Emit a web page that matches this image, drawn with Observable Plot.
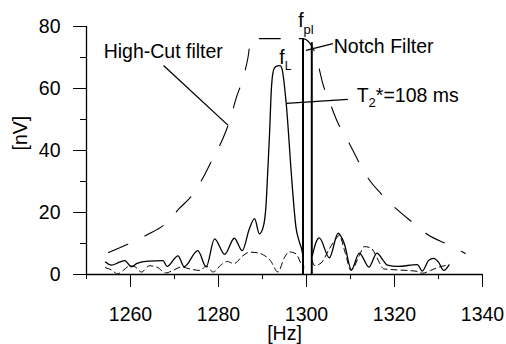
<!DOCTYPE html>
<html><head><meta charset="utf-8">
<script src="https://cdn.jsdelivr.net/npm/d3@7"></script>
<script src="https://cdn.jsdelivr.net/npm/@observablehq/plot@0.6"></script>
<style>html,body{margin:0;padding:0;background:#fff}</style>
</head><body><div id="chart"></div>
<script>
// Measured spectrum (solid) — NaN marks the notch gap
const sigHz = [1254.3,1255.7,1257.5,1258.7,1260.2,1261.5,1264.0,1267.4,1268.3,1270.8,1272.2,1275.3,1277.2,1279.1,1281.4,1283.6,1285.4,1287.0,1288.2,1289.3,1290.2,1290.8,1291.2,1291.6,1292.0,1292.3,1292.7,1293.4,1294.0,1294.4,1295.4,1296.5,1296.9,1297.6,1298.4,1299.1,1299.35,1300.3,1301.3,1302.2,1302.9,1305.2,1307.2,1308.6,1310.2,1312.0,1314.2,1316.0,1317.3,1318.4,1320.7,1325.2,1326.3,1327.8,1328.9,1330.0,1331.2,1332.4];
const sigNV = [4.0,3.0,4.0,4.5,2.5,3.6,4.3,4.5,2.6,6.0,2.5,7.7,2.5,11.5,6.5,11.7,7.7,14.7,18.0,13.1,15.5,22.3,33.5,45.4,59.4,64.5,66.6,67.3,67.4,66.5,55.0,33.5,26.0,15.3,10.4,6.7,2.0,NaN,6.0,10.5,11.8,5.4,13.3,9.9,1.5,6.9,2.4,6.9,4.8,3.0,2.6,3.2,1.1,4.6,5.2,4.0,1.3,3.1];
// Noise spectrum (short dashes)
const noiseHz = [1254.3,1255.8,1257.0,1258.5,1259.8,1261.0,1262.5,1264.3,1266.0,1268.0,1269.5,1271.5,1273.5,1275.8,1277.2,1278.8,1280.5,1282.0,1283.5,1285.5,1287.0,1289.0,1290.2,1291.8,1293.5,1295.0,1296.1,1297.6,1299.0,1299.35,1300.3,1301.3,1301.8,1303.3,1305.2,1306.7,1307.4,1308.8,1310.1,1312.0,1313.1,1314.6,1315.8,1316.5,1317.6,1319.2,1322.9,1325.2,1326.3,1328.2,1329.7,1332.4];
const noiseNV = [2.2,1.4,0.2,1.5,2.8,2.5,0.8,2.8,2.4,0.5,1.2,2.4,1.8,1.3,2.7,0.8,3.0,4.2,3.5,6.0,7.2,7.0,6.3,4.5,0.8,5.5,7.3,6.7,2.9,2.4,NaN,4.5,2.9,3.7,8.3,11.5,12.6,7.0,1.3,6.1,9.0,8.6,6.1,4.0,1.8,1.6,1.3,1.0,0.4,1.3,2.2,3.1];
// High-cut filter response (long dashes)
const hcHz = [1255.0,1259.8,1263.9,1267.7,1271.1,1274.3,1277.0,1278.8,1281.1,1282.7,1284.0,1285.4,1286.7,1287.4,1299.2,1301.7,1302.6,1303.7,1305.3,1307.1,1309.4,1311.7,1313.9,1316.9,1320.3,1324.1,1327.5,1332.1,1336.1];
const hcNV = [7.1,10.0,12.9,16.1,21.3,26.1,32.6,37.7,44.2,50.3,56.8,62.6,70.0,76.1,76.1,72.3,68.0,61.6,55.5,49.0,43.2,36.8,31.3,26.1,21.3,16.8,12.9,9.7,6.8];
// Notch filter lines
const notchHz = [1299.2, 1301.2];
const notchTop = [76.1, 74.8];
// Axes
const xDomain = [1250, 1340];
const yDomain = [0, 80];
const xMajor = [1260, 1280, 1300, 1320, 1340];
const xMinor = [1250, 1270, 1290, 1310, 1330];
const yMajor = [0, 20, 40, 60, 80];
const yMinor = [10, 30, 50, 70];
// Annotations
const labels = ["High-Cut filter", "Notch Filter", "T2*=108 ms", "fL", "fpl"];
const labelHz = [1253.9, 1306.2, 1311.4, 1293.8, 1298.1];
const labelNV = [72.0, 73.5, 57.6, 70.0, 81.8];
const leaderHz1 = [1267.5, 1299.9, 1295.4];
const leaderNV1 = [67.4, 72.3, 55.2];
const leaderHz2 = [1282.2, 1306.0, 1309.4];
const leaderNV2 = [48.1, 74.5, 56.5];
const xTitle = "[Hz]", yTitle = "[nV]";

const sig = sigHz.map((x, i) => ({x, y: sigNV[i]}));
const noise = noiseHz.map((x, i) => ({x, y: noiseNV[i]}));
const hc = hcHz.map((x, i) => ({x, y: hcNV[i]}));
const notch = notchHz.map((x, i) => ({x, top: notchTop[i]}));
const ann = labels.map((t, i) => ({t, x: labelHz[i], y: labelNV[i]}));
const leaders = leaderHz1.map((x1, i) => ({x1, y1: leaderNV1[i], x2: leaderHz2[i], y2: leaderNV2[i]}));

const chart = Plot.plot({
  width: 506, height: 344,
  marginLeft: 86, marginRight: 24, marginTop: 26, marginBottom: 70,
  style: {fontFamily: "Liberation Sans, Arial, sans-serif", fontSize: "19.5px", background: "#fff", color: "#000"},
  x: {domain: xDomain},
  y: {domain: yDomain},
  marks: [
    Plot.axisX(xMajor, {tickSize: 13, tickPadding: 20, tickFormat: d => String(d), label: null}),
    Plot.axisX(xMinor, {tickSize: 5, tickFormat: () => "", label: null}),
    Plot.axisY(yMajor, {tickSize: 13, tickPadding: 13, label: null}),
    Plot.axisY(yMinor, {tickSize: 6, tickFormat: () => "", label: null}),
    Plot.ruleY([yDomain[0]], {x1: xDomain[0], x2: xDomain[1], stroke: "#000", strokeWidth: 1.3}),
    Plot.ruleX([xDomain[0]], {y1: yDomain[0], y2: yDomain[1], stroke: "#000", strokeWidth: 1.3}),
    Plot.line(hc, {x: "x", y: "y", stroke: "#000", strokeWidth: 1.1, strokeDasharray: "21,19", curve: "monotone-x"}),
    Plot.line(noise, {x: "x", y: "y", stroke: "#000", strokeWidth: 1.0, strokeDasharray: "6,4", curve: "monotone-x"}),
    Plot.line(sig, {x: "x", y: "y", stroke: "#000", strokeWidth: 1.3, curve: "monotone-x"}),
    Plot.ruleX(notch, {x: "x", y1: 0, y2: "top", stroke: "#000", strokeWidth: 2}),
    Plot.link(leaders, {x1: "x1", y1: "y1", x2: "x2", y2: "y2", stroke: "#000", strokeWidth: 1.3}),
    Plot.text(ann, {x: "x", y: "y", text: "t", textAnchor: "start", lineAnchor: "middle", fill: "#000"}),
    Plot.text([xTitle], {frameAnchor: "bottom", dy: 59, lineAnchor: "middle", fill: "#000"}),
    Plot.text([yTitle], {frameAnchor: "left", dx: -66, rotate: -90, lineAnchor: "middle", fill: "#000"})
  ]
});
document.getElementById("chart").appendChild(chart);

function subscript(full, parts) {
  d3.select(chart).selectAll("text").filter(function() { return this.textContent === full; }).each(function() {
    const t = d3.select(this);
    t.text("");
    let shift = 0;
    parts.forEach(([s, size, dy]) => {
      const sp = t.append("tspan").text(s).attr("dy", dy - shift);
      if (size) sp.attr("font-size", size);
      shift = dy;
    });
  });
}
subscript("T2*=108 ms", [["T", null, 0], ["2", "13px", 5], ["*=108 ms", null, 0]]);
subscript("fL", [["f", null, 0], ["L", "12px", 6]]);
subscript("fpl", [["f", null, 0], ["pl", "13px", 7]]);
</script>
</body></html>
